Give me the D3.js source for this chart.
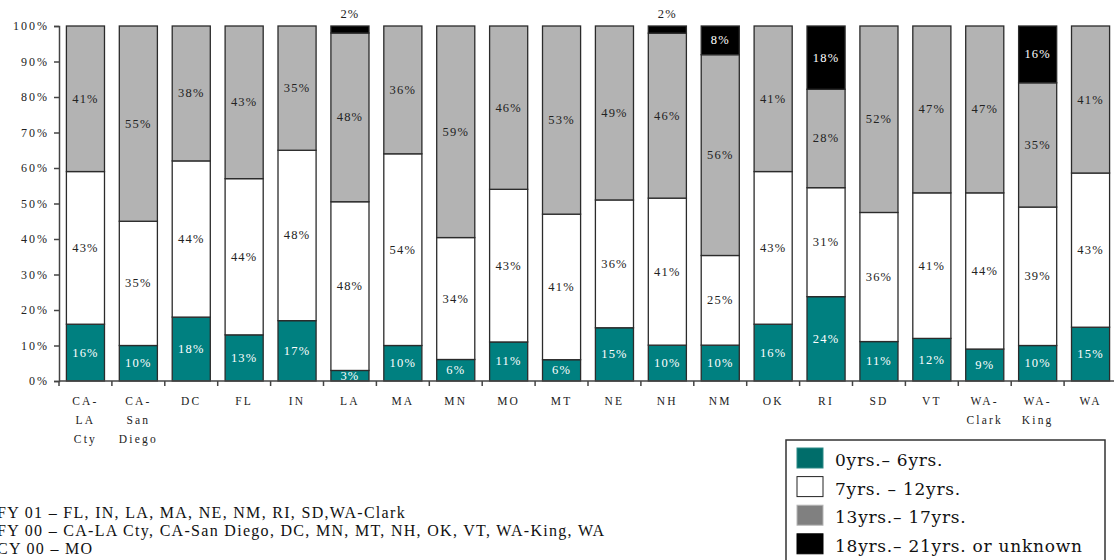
<!DOCTYPE html>
<html>
<head>
<meta charset="utf-8">
<script src="https://cdn.jsdelivr.net/npm/d3@7"></script>
<style>
  body { margin: 0; background: #fff; }
  svg { display: block; }
</style>
</head>
<body>
<svg id="chart" width="1114" height="560"></svg>
<script>
// categories (multi-line labels split by |)
const categories = ['CA-|LA|Cty', 'CA-|San|Diego', 'DC', 'FL', 'IN', 'LA', 'MA', 'MN', 'MO', 'MT',
  'NE', 'NH', 'NM', 'OK', 'RI', 'SD', 'VT', 'WA-|Clark', 'WA-|King', 'WA'];
const age0to6 = [16, 10, 18, 13, 17, 3, 10, 6, 11, 6, 15, 10, 10, 16, 24, 11, 12, 9, 10, 15];
const age7to12 = [43, 35, 44, 44, 48, 48, 54, 34, 43, 41, 36, 41, 25, 43, 31, 36, 41, 44, 39, 43];
const age13to17 = [41, 55, 38, 43, 35, 48, 36, 59, 46, 53, 49, 46, 56, 41, 28, 52, 47, 47, 35, 41];
const age18plus = [0, 0, 0, 0, 0, 2, 0, 0, 0, 0, 0, 2, 8, 0, 18, 0, 0, 0, 16, 0];
const seriesNames = ['0yrs.– 6yrs.', '7yrs. – 12yrs.', '13yrs.– 17yrs.', '18yrs.– 21yrs. or unknown'];
const yTicks = [0, 10, 20, 30, 40, 50, 60, 70, 80, 90, 100];
const notes = [
  'FY 01 – FL, IN, LA, MA, NE,  NM, RI, SD,WA-Clark',
  'FY 00 – CA-LA Cty, CA-San Diego, DC, MN, MT, NH, OK, VT, WA-King, WA',
  'CY 00 – MO'
];

const fills = ['#008080', '#ffffff', '#b3b3b3', '#000000'];
const labelColors = ['#ffffff', '#222', '#222', '#ffffff'];
const legendFills = ['#006d6a', '#ffffff', '#808080', '#000000'];
const legendStrokes = ['#2d8a86', '#222', '#b5b5b5', '#000'];

const svg = d3.select('#chart');
const serif = '"Liberation Serif", "Times New Roman", serif';

const keys = ['a', 'b', 'c', 'd'];
const rows = categories.map((c, i) => ({ cat: c, a: age0to6[i], b: age7to12[i], c: age13to17[i], d: age18plus[i] }));
// percent stacked: normalise each column to its total
const stacked = d3.stack().keys(keys).offset(d3.stackOffsetExpand)(rows);

const x = d3.scaleBand().domain(categories).range([59, 1117]).paddingInner(0.28).paddingOuter(0.14);
const y = d3.scaleLinear().domain([0, 1]).range([381, 26]);

// bars
const layer = svg.append('g').attr('class', 'bars');
stacked.forEach((s, si) => {
  layer.append('g')
    .selectAll('rect')
    .data(s.filter(d => d[1] - d[0] > 0))
    .join('rect')
    .attr('x', d => x(d.data.cat))
    .attr('width', x.bandwidth())
    .attr('y', d => y(d[1]))
    .attr('height', d => y(d[0]) - y(d[1]))
    .attr('fill', fills[si])
    .attr('stroke', '#2b2b2b')
    .attr('stroke-width', 1.3);
});

// value labels
stacked.forEach((s, si) => {
  layer.append('g')
    .selectAll('text')
    .data(s.filter(d => d[1] - d[0] > 0))
    .join('text')
    .attr('x', d => x(d.data.cat) + x.bandwidth() / 2)
    .attr('y', d => {
      const v = d.data[keys[si]];
      if (si === 3 && v < 5) return y(1) - 8;
      return (y(d[0]) + y(d[1])) / 2 + 4;
    })
    .attr('text-anchor', 'middle')
    .attr('font-family', serif)
    .attr('font-size', 12.5)
    .attr('letter-spacing', 1.2)
    .attr('fill', d => (si === 3 && d.data[keys[si]] < 5) ? '#222' : labelColors[si])
    .text(d => d.data[keys[si]] + '%');
});

// y axis
const yAxis = svg.append('g')
  .attr('transform', 'translate(59,0)')
  .call(d3.axisLeft(y).tickValues(yTicks.map(t => t / 100)).tickSize(5).tickPadding(5)
    .tickFormat(d => Math.round(d * 100) + '%'));
yAxis.select('.domain').attr('stroke', '#444').attr('stroke-width', 1.5);
yAxis.selectAll('.tick line').attr('stroke', '#444').attr('stroke-width', 1.5);
yAxis.selectAll('text')
  .attr('font-family', serif).attr('font-size', 12).attr('letter-spacing', 2).attr('fill', '#222');

// x axis
const xAxis = svg.append('g').attr('transform', 'translate(0,381)');
xAxis.append('line').attr('x1', 59).attr('x2', 1117).attr('stroke', '#444').attr('stroke-width', 1.5);
xAxis.selectAll('line.tk')
  .data(categories.concat(['end']))
  .join('line')
  .attr('class', 'tk')
  .attr('x1', (d, i) => 59 + i * x.step())
  .attr('x2', (d, i) => 59 + i * x.step())
  .attr('y1', 0).attr('y2', 5)
  .attr('stroke', '#444').attr('stroke-width', 1.5);
xAxis.selectAll('text')
  .data(categories)
  .join('text')
  .attr('x', d => x(d) + x.bandwidth() / 2)
  .attr('y', 24)
  .attr('text-anchor', 'middle')
  .attr('font-family', serif)
  .attr('font-size', 11.5)
  .attr('letter-spacing', 2.2)
  .attr('fill', '#222')
  .each(function (d) {
    const t = d3.select(this);
    d.split('|').forEach((line, i) => {
      t.append('tspan').attr('x', x(d) + x.bandwidth() / 2).attr('dy', i === 0 ? 0 : 19).text(line);
    });
  });

// footnotes (the reference crops the first letter at the left edge)
svg.append('g').selectAll('text')
  .data(notes)
  .join('text')
  .attr('x', -3)
  .attr('y', (d, i) => 518 + i * 18)
  .attr('font-family', serif)
  .attr('font-size', 16)
  .attr('letter-spacing', 1.3)
  .attr('fill', '#111')
  .text(d => d);

// legend
const legend = svg.append('g').attr('class', 'legend');
legend.append('rect')
  .attr('x', 786).attr('y', 440).attr('width', 319).attr('height', 130)
  .attr('fill', '#fff').attr('stroke', '#333').attr('stroke-width', 1.5);
const li = legend.selectAll('g.item')
  .data(seriesNames)
  .join('g')
  .attr('class', 'item')
  .attr('transform', (d, i) => `translate(797,${448 + i * 28.6})`);
li.append('rect')
  .attr('width', 26).attr('height', 20)
  .attr('fill', (d, i) => legendFills[i])
  .attr('stroke', (d, i) => legendStrokes[i])
  .attr('stroke-width', 1);
li.append('text')
  .attr('x', 38).attr('y', 18)
  .attr('font-family', '"DejaVu Serif", serif')
  .attr('font-size', 17)
  .attr('letter-spacing', 0.75)
  .attr('fill', '#111')
  .text(d => d);
</script>
</body>
</html>
